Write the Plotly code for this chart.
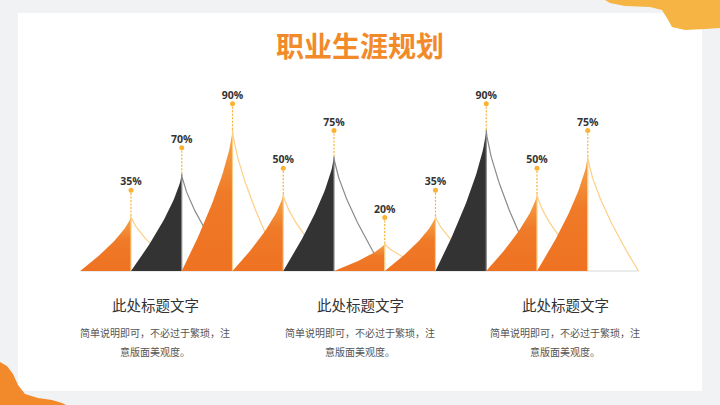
import numpy as np
import plotly.graph_objects as go

# %% Data
# bar heights as drawn in the picture; the printed labels are kept separately
heights = [35, 62, 90, 49, 73, 17.5, 35, 90, 49, 73]
value_labels = ['35%', '70%', '90%', '50%', '75%', '20%', '35%', '90%', '50%', '75%']
bar_kind = ['orange', 'dark', 'orange', 'orange', 'dark',
            'orange', 'orange', 'dark', 'orange', 'orange']

title_text = '职业生涯规划'
block_titles = ['此处标题文字', '此处标题文字', '此处标题文字']
block_line1 = ['简单说明即可，不必过于繁琐，注'] * 3
block_line2 = ['意版面美观度。'] * 3

W, H = 720, 405
FILL = {'orange': None, 'dark': '#333333'}
EDGE = {'orange': '#fdcf85', 'dark': '#8a8a8a'}
ORANGE_SCALE = [[0, '#ee7222'], [0.55, '#ef7a28'], [1, '#f7a649']]


def px(x, y):
    """pixel position -> paper coords"""
    return x / W, 1 - y / H


# peak shape: distance from peak as a function of relative height
s_curve = lambda h: (1 - h) ** 1.4
hh = np.linspace(0, 1, 40)

fig = go.Figure()

for i, (v, kind) in enumerate(zip(heights, bar_kind)):
    # filled left half
    xs = list(i - s_curve(hh)) + [i, i - 1]
    ys = list(v * hh) + [0, 0]
    tr = dict(x=xs, y=ys, mode='lines', line=dict(width=0),
              fill='toself', hoverinfo='skip', showlegend=False)
    if kind == 'orange':
        tr['fillgradient'] = dict(type='vertical', colorscale=ORANGE_SCALE,
                                  start=0, stop=v)
    else:
        tr['fillcolor'] = FILL[kind]
    fig.add_trace(go.Scatter(**tr))
    # outline: vertical edge + right curve
    hr = hh[::-1]
    xo = [i] + list(i + s_curve(hr))
    yo = [0] + list(v * hr)
    fig.add_trace(go.Scatter(x=xo, y=yo, mode='lines',
                             line=dict(color=EDGE[kind], width=1.2),
                             hoverinfo='skip', showlegend=False))

# baseline
fig.add_shape(type='line', x0=-1, x1=len(heights), y0=0, y1=0,
              line=dict(color='#d9d9d9', width=1), layer='below')

# dashed pointer lines + dots + labels
dot_off = 16.5
lab_off = 4.8
for i, v in enumerate(heights):
    fig.add_trace(go.Scatter(x=[i, i], y=[v, v + dot_off], mode='lines',
                             line=dict(color='#f9b233', width=1.2, dash='2px,1.5px'),
                             hoverinfo='skip', showlegend=False))
fig.add_trace(go.Scatter(
    x=list(range(len(heights))), y=[v + dot_off for v in heights],
    mode='markers', marker=dict(color='#f9b233', size=5),
    hoverinfo='skip', showlegend=False))
fig.add_trace(go.Scatter(
    x=list(range(len(heights))), y=[v + dot_off + lab_off for v in heights],
    mode='text', text=value_labels, textposition='middle center',
    textfont=dict(family='Open Sans', size=10.5, color='#333333', weight='bold'),
    hoverinfo='skip', showlegend=False))

# %% background decoration
fig.add_shape(type='rect', xref='paper', yref='paper',
              x0=px(18, 0)[0], x1=px(702, 0)[0], y0=px(0, 391)[1], y1=px(0, 13)[1],
              fillcolor='white', line=dict(width=0), layer='below')


def path(points):
    pts = [px(x, y) for x, y in points]
    return 'M ' + ' L '.join(f'{a:.4f},{b:.4f}' for a, b in pts) + ' Z'


top_blob = [(605, 0), (610, 3), (625, 6), (650, 7), (662, 10), (667, 18),
            (672, 27), (685, 30), (705, 29), (720, 28), (720, 0)]
bot_blob = [(0, 362), (7, 366), (13, 374), (18, 385), (25, 394), (38, 398),
            (52, 400), (62, 403), (66, 405), (0, 405)]
fig.add_shape(type='path', xref='paper', yref='paper', path=path(top_blob),
              fillcolor='#f6b445', line=dict(width=0), layer='below')
fig.add_shape(type='path', xref='paper', yref='paper', path=path(bot_blob),
              fillcolor='#f2892b', line=dict(width=0), layer='below')

# %% texts
fig.add_annotation(text=title_text, xref='paper', yref='paper',
                   x=0.5, y=px(0, 45)[1], showarrow=False,
                   xanchor='center', yanchor='middle',
                   font=dict(family='Noto Sans CJK SC', size=28,
                             color='#f28a2a', weight='bold'))
for cx, t, l1, l2 in zip([155, 360, 565], block_titles, block_line1, block_line2):
    fig.add_annotation(text=t, xref='paper', yref='paper', x=px(cx, 0)[0],
                       y=px(0, 304)[1], showarrow=False,
                       xanchor='center', yanchor='middle',
                       font=dict(family='Noto Sans CJK SC', size=14.5,
                                 color='#333333'))
    for line, ly in ((l1, 332), (l2, 351)):
        fig.add_annotation(text=line, xref='paper', yref='paper', x=px(cx, 0)[0],
                           y=px(0, ly)[1], showarrow=False,
                           xanchor='center', yanchor='middle',
                           font=dict(family='Noto Sans CJK SC', size=10,
                                     color='#555555'))

sp = 50.75
fig.update_layout(
    width=W, height=H, margin=dict(l=0, r=0, t=0, b=0),
    paper_bgcolor='#f1f2f4', plot_bgcolor='rgba(0,0,0,0)',
    xaxis=dict(range=[-131 / sp, (W - 131) / sp], visible=False, fixedrange=True),
    yaxis=dict(range=[-(H - 271) / 1.57, 271 / 1.57], visible=False, fixedrange=True),
)

fig.write_html('out.html', config={'displayModeBar': False},
               post_script="document.body.style.margin='0';")
